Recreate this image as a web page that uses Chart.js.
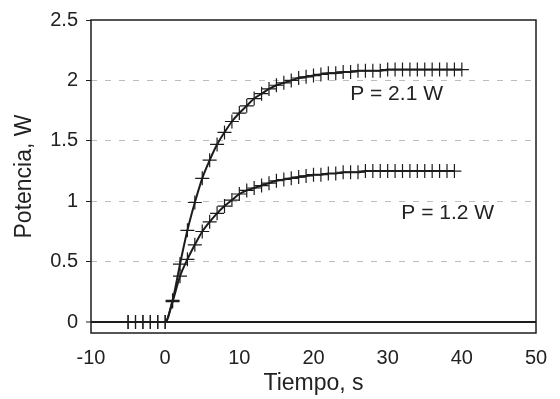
<!DOCTYPE html>
<html>
<head>
<meta charset="utf-8">
<script src="https://cdn.jsdelivr.net/npm/chart.js@4/dist/chart.umd.min.js"></script>
<style>
  html, body { margin: 0; padding: 0; background: #fff; }
  #wrap { width: 560px; height: 399px; }
</style>
</head>
<body>
<div id="wrap"><canvas id="c"></canvas></div>
<script>
// tiempo (s), one reading per second
const tiempo = [-5,-4,-3,-2,-1,0,1,2,3,4,5,6,7,8,9,10,11,12,13,14,15,16,17,18,19,20,
  21,22,23,24,25,26,27,28,29,30,31,32,33,34,35,36,37,38,39,40];

// P = 2.1 W
const pot21 = [0,0,0,0,0,0,0.18,0.48,0.76,0.99,1.19,1.34,1.47,1.57,1.66,1.73,1.79,1.85,1.89,1.93,1.96,
  1.98,2.0,2.02,2.03,2.04,2.05,2.06,2.06,2.07,2.07,2.08,2.08,2.08,2.08,2.09,2.09,2.09,2.09,2.09,2.09,
  2.09,2.09,2.09,2.09,2.09];

// P = 1.2 W
const pot12 = [0,0,0,0,0,0,0.17,0.38,0.52,0.64,0.75,0.83,0.9,0.96,1.01,1.06,1.09,1.11,1.13,1.15,1.17,
  1.18,1.19,1.2,1.21,1.22,1.22,1.23,1.23,1.24,1.24,1.24,1.25,1.25,1.25,1.25,1.25,1.25,1.25,1.25,1.25,
  1.25,1.25,1.25,1.25];

const xTicks = [-10, 0, 10, 20, 30, 40, 50];
const yTicks = [0, 0.5, 1, 1.5, 2, 2.5];

const labels = [
  { text: 'P = 2.1 W', x: 31.2, y: 1.885 },
  { text: 'P = 1.2 W', x: 38.1, y: 0.90 }
];

const ink = '#1c1c1c';
const font = 'Liberation Sans, Arial, sans-serif';

const frame = {
  id: 'frame',
  afterDraw(chart) {
    const a = chart.chartArea, ctx = chart.ctx;
    ctx.save();
    ctx.strokeStyle = ink;
    ctx.lineWidth = 1.5;
    ctx.strokeRect(a.left, a.top, a.right - a.left, a.bottom - a.top);
    ctx.fillStyle = '#222';
    ctx.font = '21px ' + font;
    ctx.textAlign = 'center';
    ctx.textBaseline = 'middle';
    labels.forEach(l => {
      ctx.fillText(l.text, chart.scales.x.getPixelForValue(l.x), chart.scales.y.getPixelForValue(l.y));
    });
    ctx.restore();
  }
};

function series(vals) {
  return {
    data: tiempo.map((t, i) => ({ x: t, y: vals[i] })),
    borderColor: ink,
    borderWidth: 2,
    cubicInterpolationMode: 'monotone',
    pointStyle: 'cross',
    pointRadius: 7,
    pointBorderWidth: 1.2,
    pointBorderColor: ink,
    pointHoverRadius: 7
  };
}

new Chart(document.getElementById('c'), {
  type: 'line',
  data: { datasets: [series(pot21), series(pot12)] },
  plugins: [frame],
  options: {
    responsive: true,
    maintainAspectRatio: false,
    animation: false,
    layout: { padding: { left: 0, right: 24, top: 17, bottom: 0 } },
    plugins: { legend: { display: false }, tooltip: { enabled: false } },
    scales: {
      x: {
        type: 'linear',
        min: -10, max: 50,
        afterBuildTicks: s => { s.ticks = xTicks.map(v => ({ value: v })); },
        afterFit: s => { s.height = 66; },
        grid: { display: false },
        border: { display: false },
        ticks: { color: '#222', padding: 5, maxRotation: 0, font: { family: font, size: 20 } },
        title: { display: true, text: 'Tiempo, s', color: '#222', padding: { top: 0, bottom: 2 }, font: { family: font, size: 23 } }
      },
      y: {
        min: -0.09, max: 2.5,
        afterBuildTicks: s => { s.ticks = yTicks.map(v => ({ value: v })); },
        afterFit: s => { s.width = 91; },
        grid: {
          color: c => c.tick && c.tick.value === 0 ? ink : (c.tick && c.tick.value === 2.5 ? 'rgba(0,0,0,0)' : '#bdbdbd'),
          lineWidth: c => c.tick && c.tick.value === 0 ? 2 : 1,
          tickColor: ink,
          tickLength: 5,
          tickWidth: 1
        },
        border: { display: false, dash: c => c.tick && c.tick.value === 0 ? [] : [6, 8] },
        ticks: { color: '#222', padding: 8, font: { family: font, size: 20 }, callback: v => String(v) },
        title: { display: true, text: 'Potencia, W', color: '#222', padding: { top: 11, bottom: 0 }, font: { family: font, size: 23 } }
      }
    }
  }
});
</script>
</body>
</html>
